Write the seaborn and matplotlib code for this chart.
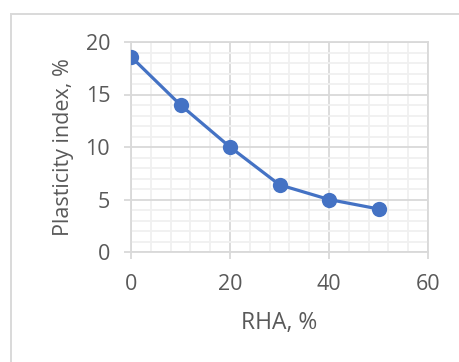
import matplotlib
matplotlib.use("Agg")
import matplotlib.pyplot as plt
from matplotlib.ticker import MultipleLocator
import seaborn as sns
import pandas as pd

# RHA content vs plasticity index
rha_pct = [0, 10, 20, 30, 40, 50]
plasticity_index = [18.6, 14.0, 10.0, 6.4, 5.0, 4.1]

df = pd.DataFrame({"RHA": rha_pct, "PI": plasticity_index})

sns.set_theme(style="white")
plt.rcParams["font.family"] = ["Open Sans", "DejaVu Sans"]

text_color = "#595959"
major_grid = "#d9d9d9"
minor_grid = "#f0f0f0"
blue = "#4472C4"

fig = plt.figure(figsize=(4.59, 3.62), dpi=100)
ax = fig.add_axes([131 / 459, 1 - 252 / 362, (428 - 131) / 459, (252 - 42) / 362])

sns.lineplot(data=df, x="RHA", y="PI", ax=ax, color=blue, linewidth=2.3,
             marker="o", markersize=11, markeredgewidth=0, zorder=5)

ax.set_xlim(0, 60)
ax.set_ylim(0, 20)
ax.xaxis.set_major_locator(MultipleLocator(20))
ax.xaxis.set_minor_locator(MultipleLocator(4))
ax.yaxis.set_major_locator(MultipleLocator(5))
ax.yaxis.set_minor_locator(MultipleLocator(1))

ax.grid(which="minor", color=minor_grid, linewidth=1.3, zorder=0)
ax.grid(which="major", color=major_grid, linewidth=1.3, zorder=1)
ax.set_axisbelow(True)

for side in ["left", "bottom", "right", "top"]:
    ax.spines[side].set_visible(True)
    ax.spines[side].set_color(major_grid)
    ax.spines[side].set_linewidth(1.3)

ax.tick_params(which="major", direction="out", length=5, width=1.3,
               color=major_grid, labelcolor=text_color, labelsize=15.5)
ax.tick_params(axis="x", which="major", pad=11, bottom=True, top=False)
ax.tick_params(axis="y", which="major", pad=10, left=True, right=False)
ax.tick_params(which="minor", length=0)

ax.set_xlabel("RHA, %", color=text_color, fontsize=16.5, labelpad=11)
ax.set_ylabel("Plasticity index, %", color=text_color, fontsize=15.5, labelpad=8)

# chart-area frame
fig.patches.append(plt.Rectangle((10.5 / 459, -0.05), 1.2, 1 - 13.5 / 362 + 0.05,
                                 transform=fig.transFigure, fill=False,
                                 edgecolor="#d9d9d9", linewidth=1.4))

fig.savefig("out.png", dpi=100)
